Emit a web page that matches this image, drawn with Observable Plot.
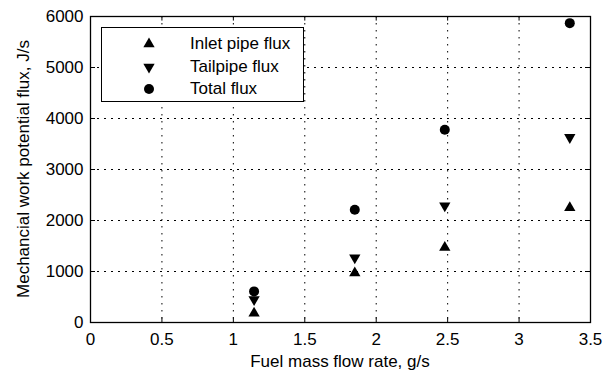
<!DOCTYPE html>
<html>
<head>
<meta charset="utf-8">
<script src="https://cdn.jsdelivr.net/npm/d3@7"></script>
<script src="https://cdn.jsdelivr.net/npm/@observablehq/plot@0.6"></script>
<style>
  html, body { margin: 0; padding: 0; background: white; }
  #wrap { position: relative; width: 616px; height: 371px; font-family: "Liberation Sans", Arial, sans-serif; color: black; }
  #wrap svg { position: absolute; left: 0; top: 0; }
  .lbl { position: absolute; font-size: 17px; white-space: nowrap; text-align: center; line-height: 20px; }
  #legend { position: absolute; left: 101px; top: 27px; width: 201px; height: 73px; border: 1.3px solid black; background: white; }
  #legend .row { position: absolute; left: 0; height: 22px; width: 200px; }
  #legend .row svg { position: absolute; left: 38px; top: 0; }
  #legend .row span { position: absolute; left: 88px; top: 1px; font-size: 17px; line-height: 20px; }
</style>
</head>
<body>
<div id="wrap"></div>
<script>
// Data
const fuelRate = [1.145, 1.85, 2.48, 3.355];           // g/s
const inletFlux = [180, 970, 1470, 2250];               // J/s
const tailpipeFlux = [450, 1270, 2290, 3630];           // J/s
const totalFlux = [610, 2210, 3780, 5870];              // J/s
const seriesNames = ["Inlet pipe flux", "Tailpipe flux", "Total flux"];
const xTicks = [0, 0.5, 1, 1.5, 2, 2.5, 3, 3.5];
const yTicks = [0, 1000, 2000, 3000, 4000, 5000, 6000];

const rows = fuelRate.flatMap((x, i) => [
  {x, y: inletFlux[i], s: seriesNames[0]},
  {x, y: tailpipeFlux[i], s: seriesNames[1]},
  {x, y: totalFlux[i], s: seriesNames[2]}
]);

const xGrid = xTicks.slice(1, -1);
const yGrid = yTicks.slice(1, -1);

const chart = Plot.plot({
  width: 616,
  height: 371,
  marginLeft: 90,
  marginRight: 26,
  marginTop: 16,
  marginBottom: 49,
  style: {fontFamily: "'Liberation Sans', Arial, sans-serif", fontSize: "17px", color: "black", background: "transparent"},
  x: {domain: [0, 3.5], ticks: xTicks, tickSize: 0, tickPadding: 10, tickFormat: d => String(d), label: null},
  y: {domain: [0, 6000], ticks: yTicks, tickSize: 0, tickPadding: 7, tickFormat: d => String(d), label: null},
  marks: [
    Plot.ruleX(xGrid, {stroke: "black", strokeDasharray: "1.5,5.5", strokeWidth: 1}),
    Plot.ruleY(yGrid, {stroke: "black", strokeDasharray: "2,5", strokeWidth: 1}),
    // inward ticks on all four sides
    Plot.ruleX(xGrid, {y1: 0, y2: 90, stroke: "black"}),
    Plot.ruleX(xGrid, {y1: 5910, y2: 6000, stroke: "black"}),
    Plot.ruleY(yGrid, {x1: 0, x2: 0.035, stroke: "black"}),
    Plot.ruleY(yGrid, {x1: 3.465, x2: 3.5, stroke: "black"}),
    Plot.frame({stroke: "black", strokeWidth: 1.3}),
    Plot.dot(rows.filter(d => d.s === seriesNames[0]), {x: "x", y: "y", symbol: "triangle", r: 4.2, fill: "black", stroke: "none"}),
    Plot.dot(rows.filter(d => d.s === seriesNames[1]), {x: "x", y: "y", symbol: "triangle", r: 4.2, rotate: 180, fill: "black", stroke: "none"}),
    Plot.dot(rows.filter(d => d.s === seriesNames[2]), {x: "x", y: "y", symbol: "circle", r: 5, fill: "black", stroke: "none"})
  ]
});

const wrap = document.getElementById("wrap");
wrap.appendChild(chart);

// Axis labels
const xl = document.createElement("div");
xl.className = "lbl";
xl.textContent = "Fuel mass flow rate, g/s";
xl.style.left = "140px"; xl.style.width = "400px"; xl.style.top = "352px";
wrap.appendChild(xl);

const yl = document.createElement("div");
yl.className = "lbl";
yl.textContent = "Mechancial work potential flux, J/s";
yl.style.left = (24 - 200) + "px"; yl.style.width = "400px"; yl.style.top = (169 - 10) + "px";
yl.style.transform = "rotate(-90deg)";
wrap.appendChild(yl);

// Legend
const legend = document.createElement("div");
legend.id = "legend";
const symPaths = [
  d3.symbol(d3.symbolTriangle, 4.2 * 4.2 * Math.PI)(),
  d3.symbol(d3.symbolTriangle, 4.2 * 4.2 * Math.PI)(),
  d3.symbol(d3.symbolCircle, 25 * Math.PI)()
];
const rowTops = [5, 28, 50];
seriesNames.forEach((name, i) => {
  const row = document.createElement("div");
  row.className = "row";
  row.style.top = rowTops[i] + "px";
  const rot = i === 1 ? " rotate(180)" : "";
  row.innerHTML = `<svg width="18" height="22"><path transform="translate(9,11)${rot}" d="${symPaths[i]}" fill="black"/></svg><span>${name}</span>`;
  legend.appendChild(row);
});
wrap.appendChild(legend);
</script>
</body>
</html>
